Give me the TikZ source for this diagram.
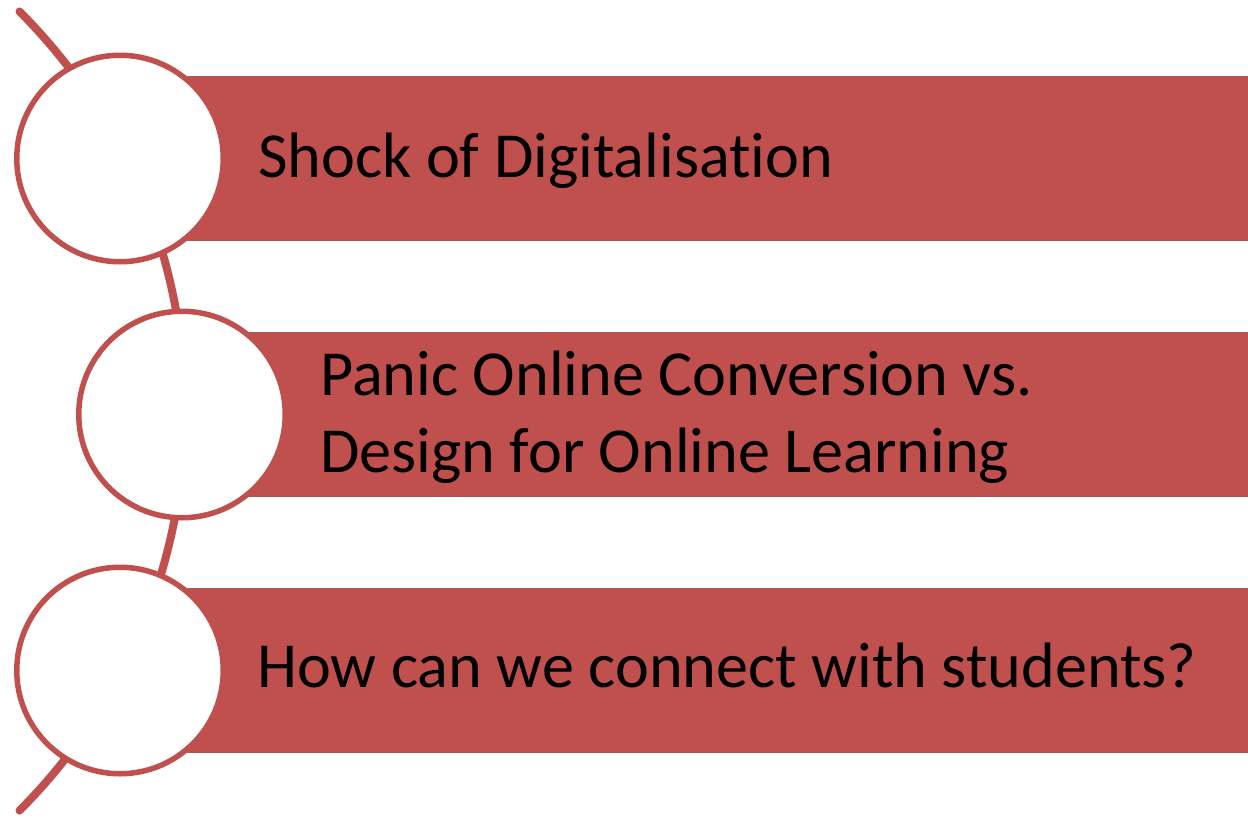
\documentclass[tikz,border=0pt]{standalone}
\usepackage{fontspec}
\setmainfont{Carlito}[Ligatures={NoCommon}]
\definecolor{accred}{HTML}{C0504D}
\begin{document}
\begin{tikzpicture}[x=1pt,y=1pt,
  bar/.style={fill=accred, draw=none, minimum height=165pt, inner sep=0pt},
  ring/.style={circle, fill=white, draw=accred, line width=5.5pt, minimum size=206.5pt, inner sep=0pt},
  label/.style={font=\fontsize{64.2}{77}\selectfont, text=black, inner sep=0pt, align=left},
  spine/.style={draw=accred, line width=8pt, line cap=round}]
\useasboundingbox (0,0) rectangle (1248,-822);
% spine arc
\coordinate (arcc) at (-380,-411);
\draw[spine] (arcc) ++(45:565) arc[start angle=45, end angle=-45, radius=565];
% bars
\node[bar, minimum width=1128pt] (b1) at (684,-158.5) {};
\node[bar, minimum width=1066pt] (b2) at (715,-414.5) {};
\node[bar, minimum width=1128pt] (b3) at (684,-670.5) {};
% circles
\node[ring] (c1) at (120,-158.5) {};
\node[ring] (c2) at (182,-414.5) {};
\node[ring] (c3) at (120,-670.5) {};
% texts
\node[label, anchor=base west] (t1) at (258,-177) {Shock of Digitalisation};
\node[label, anchor=base west] (t2) at (320,-472) {Panic Online Conversion vs.\\Design for Online Learning};
\node[label, anchor=base west] (t3) at (257,-687) {How can we connect with students?};
\end{tikzpicture}
\end{document}
